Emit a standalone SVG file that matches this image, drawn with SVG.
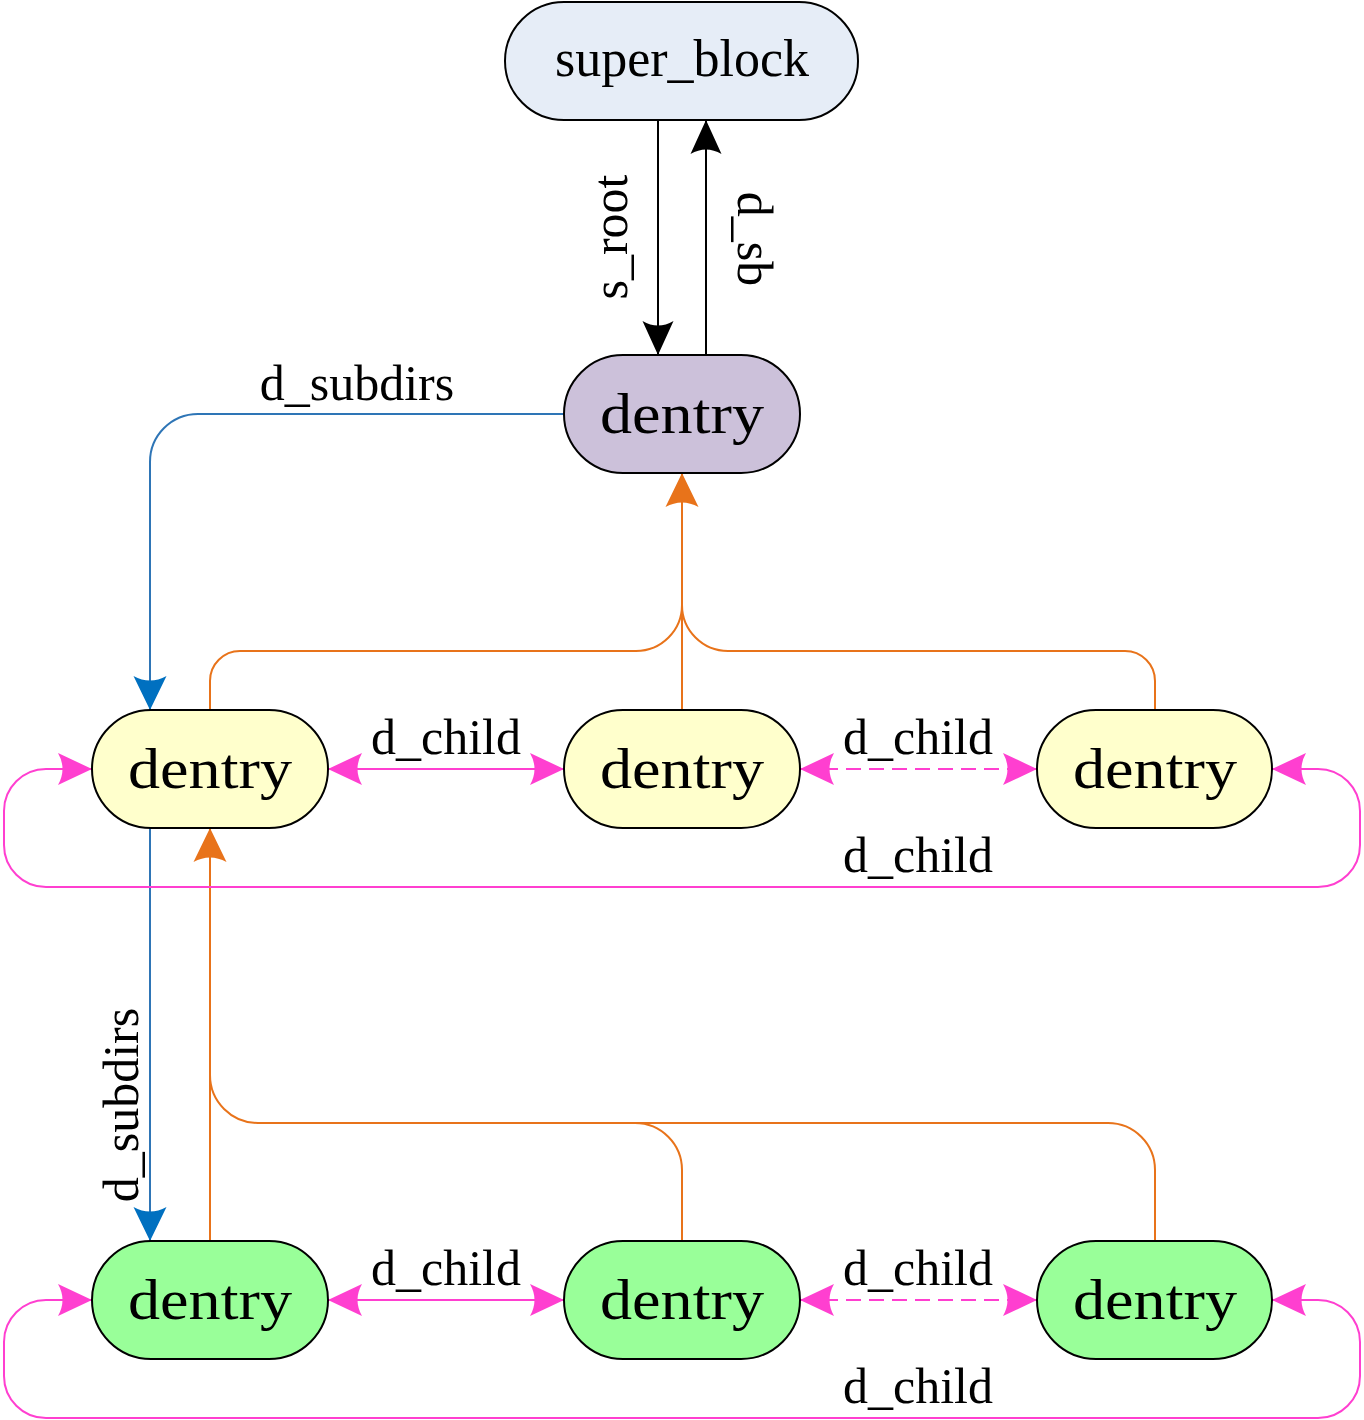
<svg xmlns="http://www.w3.org/2000/svg" width="1364" height="1420" viewBox="0 0 1364 1420">
<style>
  .node { stroke: #000; stroke-width: 2; }
  .sb { fill: #e6edf7; }
  .root { fill: #ccc1da; }
  .yel { fill: #ffffcc; }
  .grn { fill: #99ff99; }
  .ntext { font-family: "Liberation Serif", "DejaVu Serif", serif; font-size: 57px; fill: #000; text-anchor: middle; }
  .lbl { font-family: "Liberation Serif", "DejaVu Serif", serif; font-size: 50px; fill: #000; text-anchor: middle; }
  .c { fill: none; stroke-width: 2; }
  .blk { stroke: #000; }
  .blu { stroke: #2e75b6; }
  .org { stroke: #e8731a; }
  .pnk { stroke: #ff3fd0; }
  .dash { stroke-dasharray: 15 8; }
</style>
<defs>
  <marker id="aBlk" markerUnits="userSpaceOnUse" markerWidth="36" markerHeight="36" refX="34" refY="18" orient="auto" overflow="visible">
    <path d="M34,18 L0,2.5 Q9,18 0,33.5 Z" fill="#000"/>
  </marker>
  <marker id="aBlu" markerUnits="userSpaceOnUse" markerWidth="36" markerHeight="36" refX="34" refY="18" orient="auto" overflow="visible">
    <path d="M34,18 L0,1.5 Q9,18 0,34.5 Z" fill="#0070c0"/>
  </marker>
  <marker id="aOrg" markerUnits="userSpaceOnUse" markerWidth="36" markerHeight="36" refX="34" refY="18" orient="auto" overflow="visible">
    <path d="M34,18 L0,1.5 Q9,18 0,34.5 Z" fill="#e8731a"/>
  </marker>
  <marker id="aPnk" markerUnits="userSpaceOnUse" markerWidth="36" markerHeight="36" refX="34" refY="18" orient="auto-start-reverse" overflow="visible">
    <path d="M34,18 L0,2 Q9,18 0,34 Z" fill="#ff3fd0"/>
  </marker>
</defs>

<g id="connectors">
  <!-- super_block <-> root -->
  <path class="c blk" d="M658,120 V355" marker-end="url(#aBlk)"/>
  <path class="c blk" d="M706,355 V120" marker-end="url(#aBlk)"/>
  <text class="lbl" transform="translate(627,237) rotate(-90)">s_root</text>
  <text class="lbl" transform="translate(738,239) rotate(90)">d_sb</text>

  <!-- d_subdirs -->
  <path class="c blu" d="M564,414 H198 A48,48 0 0 0 150,462 V710" marker-end="url(#aBlu)"/>
  <text class="lbl" x="357" y="400">d_subdirs</text>
  <path class="c blu" d="M150,828 V1241" marker-end="url(#aBlu)"/>
  <text class="lbl" transform="translate(138,1105) rotate(-90)">d_subdirs</text>

  <!-- d_parent row 2 -> root -->
  <path class="c org" d="M210,710 V681 A30,30 0 0 1 240,651 H636 A46,46 0 0 0 682,605 V490"/>
  <path class="c org" d="M1155,710 V681 A30,30 0 0 0 1125,651 H728 A46,46 0 0 1 682,605 V490"/>
  <path class="c org" d="M682,710 V473" marker-end="url(#aOrg)"/>

  <!-- d_parent row 3 -> row 2 first -->
  <path class="c org" d="M682,1241 V1170 A47,47 0 0 0 635,1123 H258 A48,48 0 0 1 210,1075 V845"/>
  <path class="c org" d="M1155,1241 V1170 A47,47 0 0 0 1108,1123 H600"/>
  <path class="c org" d="M210,1241 V828" marker-end="url(#aOrg)"/>

  <!-- d_child row 2 -->
  <path class="c pnk" d="M328,769 H564" marker-start="url(#aPnk)" marker-end="url(#aPnk)"/>
  <path class="c pnk dash" d="M800,769 H1037" marker-start="url(#aPnk)" marker-end="url(#aPnk)"/>
  <path class="c pnk" d="M1272,769 H1318 A42,42 0 0 1 1360,811 V845 A42,42 0 0 1 1318,887 H46 A42,42 0 0 1 4,845 V811 A42,42 0 0 1 46,769 H92" marker-start="url(#aPnk)" marker-end="url(#aPnk)"/>
  <text class="lbl" x="446" y="754">d_child</text>
  <text class="lbl" x="918" y="754">d_child</text>
  <text class="lbl" x="918" y="872">d_child</text>

  <!-- d_child row 3 -->
  <path class="c pnk" d="M328,1300 H564" marker-start="url(#aPnk)" marker-end="url(#aPnk)"/>
  <path class="c pnk dash" d="M800,1300 H1037" marker-start="url(#aPnk)" marker-end="url(#aPnk)"/>
  <path class="c pnk" d="M1272,1300 H1318 A42,42 0 0 1 1360,1342 V1376 A42,42 0 0 1 1318,1418 H46 A42,42 0 0 1 4,1376 V1342 A42,42 0 0 1 46,1300 H92" marker-start="url(#aPnk)" marker-end="url(#aPnk)"/>
  <text class="lbl" x="446" y="1285">d_child</text>
  <text class="lbl" x="918" y="1285">d_child</text>
  <text class="lbl" x="918" y="1403">d_child</text>
</g>

<g id="super_block">
  <rect class="node sb" x="505" y="2" width="353" height="118" rx="59"/>
  <text class="lbl" x="682" y="76" style="font-size:52px">super_block</text>
</g>
<g id="dentry_root">
  <rect class="node root" x="564" y="355" width="236" height="118" rx="59"/>
  <text class="ntext" x="682" y="433" textLength="164" lengthAdjust="spacingAndGlyphs">dentry</text>
</g>

<g id="dentry_r2_1">
  <rect class="node yel" x="92" y="710" width="236" height="118" rx="59"/>
  <text class="ntext" x="210" y="788" textLength="164" lengthAdjust="spacingAndGlyphs">dentry</text>
</g>
<g id="dentry_r2_2">
  <rect class="node yel" x="564" y="710" width="236" height="118" rx="59"/>
  <text class="ntext" x="682" y="788" textLength="164" lengthAdjust="spacingAndGlyphs">dentry</text>
</g>
<g id="dentry_r2_3">
  <rect class="node yel" x="1037" y="710" width="235" height="118" rx="59"/>
  <text class="ntext" x="1155" y="788" textLength="164" lengthAdjust="spacingAndGlyphs">dentry</text>
</g>

<g id="dentry_r3_1">
  <rect class="node grn" x="92" y="1241" width="236" height="118" rx="59"/>
  <text class="ntext" x="210" y="1319" textLength="164" lengthAdjust="spacingAndGlyphs">dentry</text>
</g>
<g id="dentry_r3_2">
  <rect class="node grn" x="564" y="1241" width="236" height="118" rx="59"/>
  <text class="ntext" x="682" y="1319" textLength="164" lengthAdjust="spacingAndGlyphs">dentry</text>
</g>
<g id="dentry_r3_3">
  <rect class="node grn" x="1037" y="1241" width="235" height="118" rx="59"/>
  <text class="ntext" x="1155" y="1319" textLength="164" lengthAdjust="spacingAndGlyphs">dentry</text>
</g>
</svg>
